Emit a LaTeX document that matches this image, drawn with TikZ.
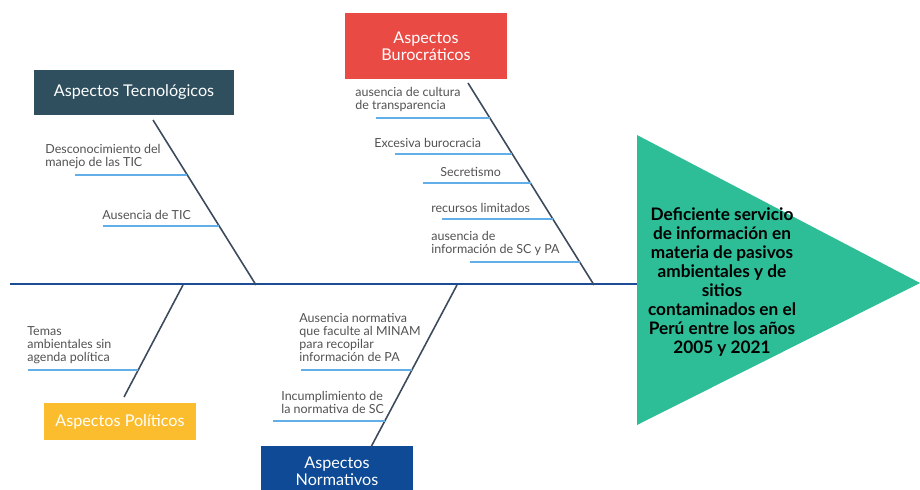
\documentclass[tikz,border=0pt]{standalone}
\usepackage{fontspec}
\setmainfont{Lato}
\usepackage{xcolor}
\definecolor{tecno}{HTML}{2F4F5E}
\definecolor{buro}{HTML}{E94A44}
\definecolor{poli}{HTML}{FBBD2E}
\definecolor{norma}{HTML}{0E4A96}
\definecolor{efecto}{HTML}{2DBD97}
\definecolor{espina}{HTML}{1B4C94}
\definecolor{hueso}{HTML}{3C4A5C}
\definecolor{rama}{HTML}{62AEE8}
\tikzset{
  caja/.style={fill=#1, text=white, align=center, inner sep=0pt, font=\fontsize{9.2}{9.8}\selectfont},
  causa/.style={text=black!68, align=left, inner sep=0pt, font=\fontsize{7.1}{7.5}\selectfont},
  hueso/.style={draw=hueso, line width=0.9pt},
  rama/.style={draw=rama, line width=0.7pt}
}

\begin{document}
\begin{tikzpicture}[x=0.02cm, y=-0.02cm]
\useasboundingbox (0,0) rectangle (920,490);
\fill[efecto] (637,135) coordinate (efA) -- (920,283) coordinate (efB) -- (637,425) coordinate (efC) -- cycle;
\node[font=\bfseries\fontsize{9.8}{10.8}\selectfont, align=center] (efecto) at (722,282)
  {Deficiente servicio\\de información en\\materia de pasivos\\ambientales y de\\sitios\\contaminados en el\\Perú entre los años\\2005 y 2021};
\coordinate (cola) at (10,284);
\coordinate (cabeza) at (637,284);
\draw[espina, line width=1.7pt] (cola) -- (cabeza);

\node[caja=tecno, minimum width=4cm, minimum height=0.9cm] (tec) at (134,92.5) {Aspectos Tecnológicos};
\node[caja=buro, minimum width=3.24cm, minimum height=1.32cm] (bur) at (426,46) {Aspectos\\Burocráticos};
\node[caja=poli, minimum width=3.04cm, minimum height=0.74cm] (pol) at (120,421.5) {Aspectos Políticos};
\node[caja=norma, minimum width=3.04cm, minimum height=1cm] (nor) at (337,471) {Aspectos\\Normativos};

\coordinate (tecA) at (153,120);
\coordinate (tecB) at (256,285);
\coordinate (burA) at (468,83);
\coordinate (burB) at (594,285);
\coordinate (polA) at (183,285);
\coordinate (polB) at (124,397);
\coordinate (norA) at (457,285);
\coordinate (norB) at (371,447);
\draw[hueso] (tecA) -- (tecB);
\draw[hueso] (burA) -- (burB);
\draw[hueso] (polA) -- (polB);
\draw[hueso] (norA) -- (norB);

\node[causa, anchor=south west] (t1) at (45,169) {Desconocimiento del\\manejo de las TIC};
\node[causa, anchor=south west] (t2) at (102,220) {Ausencia de TIC};
\coordinate (t1a) at (75,175);  \coordinate (t1b) at (187,175);
\coordinate (t2a) at (103,226); \coordinate (t2b) at (219,226);
\draw[rama] (t1a) -- (t1b);
\draw[rama] (t2a) -- (t2b);

\node[causa, anchor=south west] (b1) at (355,112) {ausencia de cultura\\de transparencia};
\node[causa, anchor=south west] (b2) at (374,148) {Excesiva burocracia};
\node[causa, anchor=south west] (b3) at (440,177) {Secretismo};
\node[causa, anchor=south west] (b4) at (431,213) {recursos limitados};
\node[causa, anchor=south west] (b5) at (431,256) {ausencia de\\información de SC y PA};
\coordinate (b1a) at (376,118); \coordinate (b1b) at (490,118);
\coordinate (b2a) at (395,154); \coordinate (b2b) at (512,154);
\coordinate (b3a) at (423,183); \coordinate (b3b) at (531,183);
\coordinate (b4a) at (442,219); \coordinate (b4b) at (553,219);
\coordinate (b5a) at (470,262); \coordinate (b5b) at (580,262);
\draw[rama] (b1a) -- (b1b);
\draw[rama] (b2a) -- (b2b);
\draw[rama] (b3a) -- (b3b);
\draw[rama] (b4a) -- (b4b);
\draw[rama] (b5a) -- (b5b);

\node[causa, anchor=south west] (p1) at (27,364) {Temas\\ambientales sin\\agenda política};
\coordinate (p1a) at (28,370); \coordinate (p1b) at (138,370);
\draw[rama] (p1a) -- (p1b);

\node[causa, anchor=south west] (n1) at (299,362) {Ausencia normativa\\que faculte al MINAM\\para recopilar\\información de PA};
\node[causa, anchor=south west] (n2) at (281,414) {Incumplimiento de\\la normativa de SC};
\coordinate (n1a) at (301,370); \coordinate (n1b) at (412,370);
\coordinate (n2a) at (273,421); \coordinate (n2b) at (385,421);
\draw[rama] (n1a) -- (n1b);
\draw[rama] (n2a) -- (n2b);
\end{tikzpicture}
\end{document}
